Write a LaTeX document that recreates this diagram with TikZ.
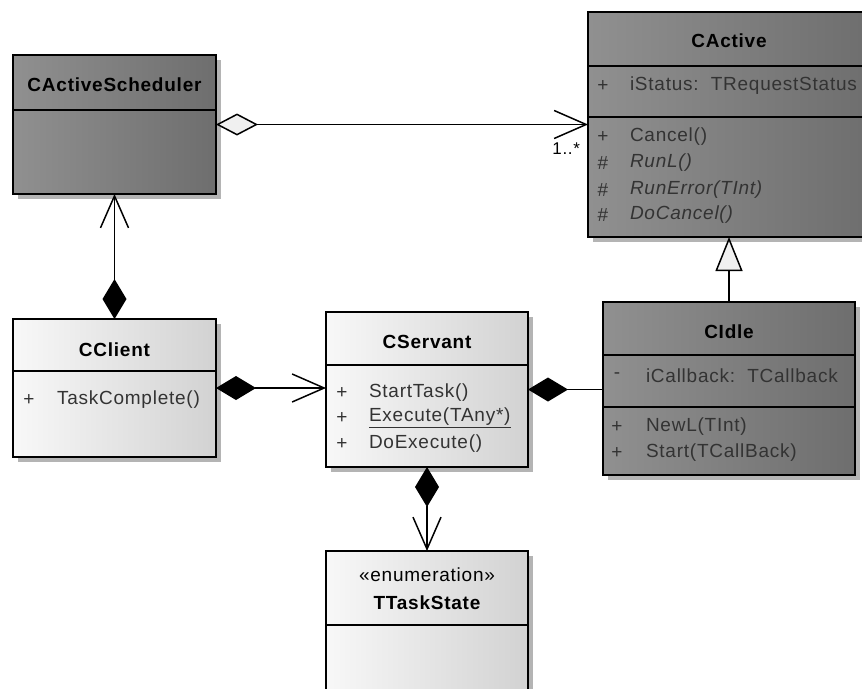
\documentclass[tikz,border=0pt]{standalone}
\usepackage{fontspec}
\setmainfont{Liberation Sans}[LetterSpace=4]
\usetikzlibrary{positioning}
\usetikzlibrary{arrows.meta,shadows}

\definecolor{darkleft}{HTML}{909090}
\definecolor{darkright}{HTML}{6E6E6E}
\definecolor{lightleft}{HTML}{F8F8F8}
\definecolor{lightright}{HTML}{D2D2D2}
\definecolor{shadowgray}{HTML}{B4B4B4}
\definecolor{membergray}{HTML}{333333}
\definecolor{hollowfill}{HTML}{F0F0F0}

\begin{document}
\begin{tikzpicture}[x=1pt,y=-1pt,
    every node/.style={outer sep=0pt,inner sep=0pt,font=\fontsize{19}{22}\selectfont},
    aggr/.tip={Diamond[length=42pt,width=22pt,fill=hollowfill]},
    comp/.tip={Diamond[length=40pt,width=24pt]},
    nav/.tip={Straight Barb[length=32pt,width=28pt]},
    gen/.tip={Triangle[length=34pt,width=27pt,fill=hollowfill]}]
    \tikzstyle{class box}=[draw,line width=1.6pt,drop shadow={shadow xshift=5pt,shadow yshift=-5pt,fill=shadowgray,opacity=1}]
    \tikzstyle{dark class}=[class box,left color=darkleft,right color=darkright]
    \tikzstyle{light class}=[class box,left color=lightleft,right color=lightright]
    \tikzstyle{class name}=[font=\fontsize{19}{22}\selectfont\bfseries]
    \tikzstyle{member}=[anchor=west,text=membergray]
    \tikzstyle{vis}=[text=membergray]
    \tikzstyle{divider}=[line width=1.6pt]
    \tikzstyle{conn}=[line width=1.5pt]

    \clip (0,0) rectangle (862,688);

    % class boxes
    \node[dark class,minimum width=203,minimum height=139] (sched) at (114.5,124.5) {};
    \node[dark class,minimum width=282,minimum height=225] (active) at (729,124.5) {};
    \node[light class,minimum width=203,minimum height=138] (client) at (114.5,388) {};
    \node[light class,minimum width=202,minimum height=155] (servant) at (427,389.5) {};
    \node[dark class,minimum width=252,minimum height=173] (idle) at (729,388.5) {};
    \node[light class,minimum width=202,minimum height=169] (state) at (427,635.5) {};

    % compartments
    \draw[divider] (13,110) -- (216,110);   % CActiveScheduler
    \draw[divider] (588,66) -- (870,66);    % CActive
    \draw[divider] (588,117) -- (870,117);
    \draw[divider] (13,371) -- (216,371);   % CClient
    \draw[divider] (326,365) -- (528,365);  % CServant
    \draw[divider] (603,355) -- (855,355);  % CIdle
    \draw[divider] (603,407) -- (855,407);
    \draw[divider] (326,625) -- (528,625);  % TTaskState

    % names
    \node[class name] (sched-title) at (114.5,85) {CActiveScheduler};
    \node[class name] (active-title) at (729,41) {CActive};
    \node[class name] (client-title) at (114.5,350) {CClient};
    \node[class name] (servant-title) at (427,342) {CServant};
    \node[class name] (idle-title) at (729,332) {CIdle};
    \node (state-stereo) at (427,575) {«enumeration»};
    \node[class name] (state-title) at (427,603) {TTaskState};

    % CActive members
    \node[vis] (active-v0) at (603,86) {+};
    \node[member] (active-m0) at (630,86) {iStatus:\ \ TRequestStatus};
    \foreach \s/\t/\y/\n in {+/Cancel()/137/1, \#/\itshape RunL()/163/2,
                             \#/\itshape RunError(TInt)/190/3, \#/\itshape DoCancel()/215/4}
    {
        \node[vis] (active-v\n) at (603,\y) {\s};
        \node[member] (active-m\n) at (630,\y) {\t};
    }

    % CClient members
    \node[vis] (client-v1) at (29,400) {+};
    \node[member] (client-m1) at (57,400) {TaskComplete()};

    % CServant members
    \foreach \t/\y/\n in {StartTask()/393/1, \underline{Execute(TAny*)}/418/2, DoExecute()/444/3}
    {
        \node[vis] (servant-v\n) at (342,\y) {+};
        \node[member] (servant-m\n) at (369,\y) {\t};
    }

    % CIdle members
    \node[vis] (idle-v0) at (617,376) {-};
    \node[member] (idle-m0) at (646,376) {iCallback:\ \ TCallback};
    \foreach \t/\y/\n in {NewL(TInt)/427/1, Start(TCallBack)/453/2}
    {
        \node[vis] (idle-v\n) at (617,\y) {+};
        \node[member] (idle-m\n) at (646,\y) {\t};
    }

    % connectors
    \draw[conn,aggr-nav] (sched.east) -- (active.west);
    \node[anchor=east,font=\fontsize{17}{20}\selectfont] (mult) at (580,149) {1..*};
    \draw[conn,comp-nav] (client.north) -- (sched.south);
    \draw[conn,comp-nav] (client.east) -- (client.east -| servant.west);
    \draw[conn,comp-] (servant.east) -- (servant.east -| idle.west);
    \draw[conn,comp-nav] (servant.south) -- (state.north);
    \draw[conn,-gen] (idle.north) -- (active.south);
\end{tikzpicture}
\end{document}
